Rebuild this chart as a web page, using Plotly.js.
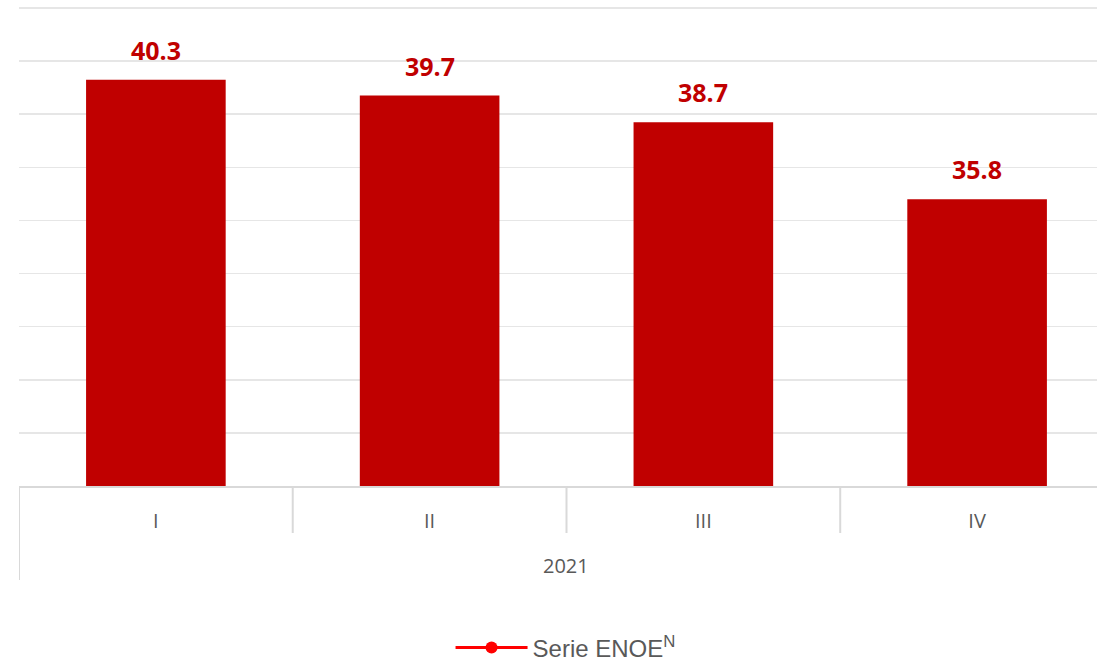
<!DOCTYPE html>
<html>
<head>
<meta charset="utf-8">
<script src="https://cdn.plot.ly/plotly-3.0.1.min.js"></script>
<style>html,body{margin:0;padding:0;background:#fff;}#chart{width:1097px;height:663px;}</style>
</head>
<body>
<div id="chart"></div>
<script>
// Data
const quarters = ["I", "II", "III", "IV"];
const year = "2021";
const values = [40.3, 39.7, 38.7, 35.8];
const legendName = "Serie ENOE<sup>N</sup>";
const legendSeries = [null, null, null, null]; // series shown only in the legend

const barTrace = {
  type: "bar",
  x: quarters,
  y: values,
  marker: {color: "#c00000"},
  showlegend: false,
  hoverinfo: "x+y"
};

const legendTrace = {
  type: "scatter",
  mode: "lines+markers",
  x: quarters,
  y: legendSeries,
  name: legendName,
  line: {color: "#ff0000", width: 3},
  marker: {color: "#ff0000", size: 12},
  showlegend: true
};

const annotations = quarters.map((q, i) => ({
  x: q, y: values[i], xref: "x", yref: "y",
  text: "<b>" + values[i].toFixed(1) + "</b>",
  showarrow: false, yanchor: "bottom", yshift: 11,
  font: {family: "Open Sans", size: 25, color: "#c00000"}
}));
annotations.push({
  x: 1.5, y: -0.164, xref: "x", yref: "paper",
  text: year, showarrow: false, yanchor: "middle",
  font: {family: "Open Sans", size: 20, color: "#595959"}
});

const shapes = [];
for (let i = 0; i < quarters.length - 1; i++) {
  shapes.push({type: "line", xref: "x", yref: "paper", x0: i + 0.5, x1: i + 0.5, y0: 0, y1: -0.0975,
    line: {color: "#d9d9d9", width: 2}});
}
shapes.push({type: "line", xref: "x", yref: "paper", x0: -0.5, x1: -0.5, y0: 0, y1: -0.195,
  line: {color: "#d9d9d9", width: 2}});

const layout = {
  width: 1097, height: 663,
  margin: {l: 19, r: 0, t: 4, b: 177, autoexpand: false},
  paper_bgcolor: "#fff", plot_bgcolor: "#fff",
  bargap: 0.49,
  showlegend: true,
  legend: {orientation: "h", x: 0.507, xanchor: "center", yref: "container", y: 0.0226, yanchor: "middle",
    font: {family: "Liberation Sans", size: 24, color: "#595959"}, itemwidth: 72},
  xaxis: {
    type: "category", range: [-0.5, 3.438],
    showgrid: false, zeroline: false,
    showline: true, linecolor: "#d9d9d9", linewidth: 2,
    ticks: "", tickfont: {family: "Open Sans", size: 20, color: "#595959"},
    ticklabelstandoff: 16
  },
  yaxis: {
    range: [25, 43.15], tick0: 25, dtick: 2,
    showgrid: true, gridcolor: "#e6e6e6", gridwidth: 1.5,
    zeroline: false, showticklabels: false, ticks: "", showline: false
  },
  annotations: annotations,
  shapes: shapes
};

Plotly.newPlot("chart", [barTrace, legendTrace], layout, {displayModeBar: false, staticPlot: true});
</script>
</body>
</html>
